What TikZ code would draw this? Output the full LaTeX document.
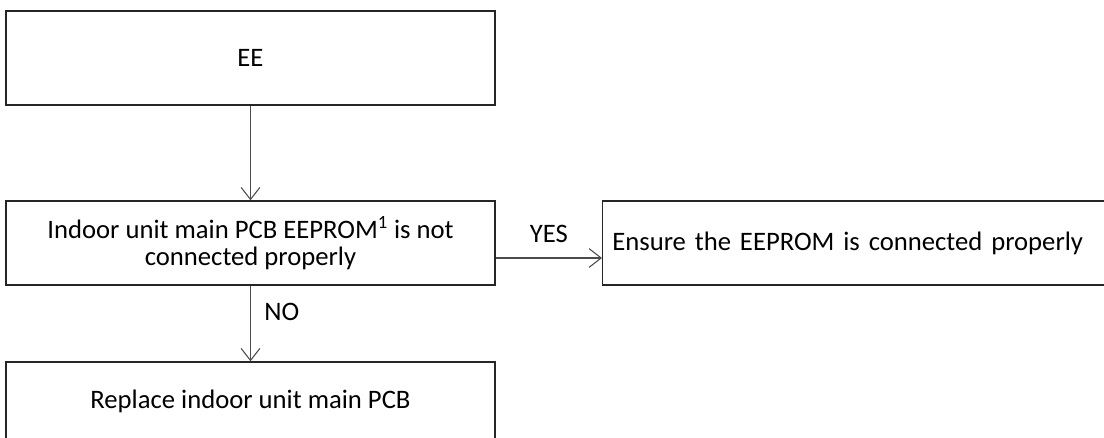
\documentclass[tikz,border=0pt]{standalone}
\usepackage{fontspec}
\setmainfont{Carlito}
\usetikzlibrary{positioning, arrows.meta}
\tikzset{
    flowbox/.style={draw=black!85, line width=1pt, fill=white, minimum width=366.75pt, align=center, inner sep=6pt, font=\fontsize{20}{20}\selectfont},
    flowarrow/.style={-{Straight Barb[length=9pt,width=14pt]}, line width=0.8pt, draw=black!70},
    branchnote/.style={font=\fontsize{20}{20}\selectfont, inner sep=2pt}
}
\begin{document}
\begin{tikzpicture}[x=0.75pt,y=-0.75pt]
    % Page frame (the boxes on the right and bottom run off the edge)
    \useasboundingbox (0,0) rectangle (1104,438);
    \clip (0,0) rectangle (1104,438);

    % Boxes
    \node[flowbox, minimum height=70.5pt] (ee)     at (250.5,58)  {EE};
    \node[flowbox, minimum height=63pt]   (check)  at (250.5,243) {Indoor unit main PCB EEPROM\textsuperscript{1} is not\\connected properly};
    \node[flowbox, minimum height=63pt, minimum width=382.5pt, align=left, text width=368pt, inner sep=4pt, anchor=west]
                                          (ensure) at (602,243)   {Ensure the EEPROM is connected properly};
    \node[flowbox, minimum height=58.5pt] (replace) at (250.5,401) {Replace indoor unit main PCB};

    % Connectors
    \draw[flowarrow] (ee) -- (check);
    \draw[flowarrow] (check.east |- 0,258) -- node[above=9pt,branchnote] {YES} (ensure.west |- 0,258);
    \draw[flowarrow] (check) -- node[right=8pt,pos=0.35,branchnote] {NO} (replace);
\end{tikzpicture}
\end{document}
